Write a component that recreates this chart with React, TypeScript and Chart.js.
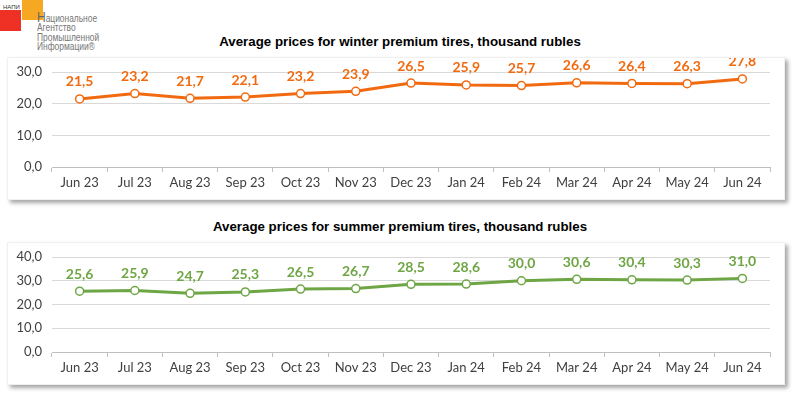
import React, { useEffect, useRef } from "react";
import { Chart, registerables } from "chart.js";

Chart.register(...registerables);

const months = ["Jun 23", "Jul 23", "Aug 23", "Sep 23", "Oct 23", "Nov 23", "Dec 23", "Jan 24", "Feb 24", "Mar 24", "Apr 24", "May 24", "Jun 24"];
const winterPrices = [21.5, 23.2, 21.7, 22.1, 23.2, 23.9, 26.5, 25.9, 25.7, 26.6, 26.4, 26.3, 27.8];
const summerPrices = [25.6, 25.9, 24.7, 25.3, 26.5, 26.7, 28.5, 28.6, 30.0, 30.6, 30.4, 30.3, 31.0];
const winterTitle = "Average prices for winter premium tires, thousand rubles";
const summerTitle = "Average prices for summer premium tires, thousand rubles";
const winterMax = 30;
const summerMax = 40;
const tickStep = 10;

const ORANGE = "#F26A10";
const GREEN = "#6FA645";
const LABEL_FONT = "Lato, 'Open Sans', sans-serif";

const fmt = (v: number) => v.toFixed(1).replace(".", ",");

const dataLabelPlugin = {
  id: "dataLabels",
  afterDatasetsDraw(chart: any) {
    const ctx = chart.ctx;
    chart.data.datasets.forEach((ds: any, i: number) => {
      const meta = chart.getDatasetMeta(i);
      ctx.save();
      ctx.fillStyle = ds.borderColor;
      ctx.font = `bold 14px ${LABEL_FONT}`;
      ctx.textAlign = "center";
      ctx.textBaseline = "middle";
      meta.data.forEach((pt: any, j: number) => {
        ctx.fillText(fmt(ds.data[j]), pt.x, pt.y - 17);
      });
      ctx.restore();
    });
  },
};

function LineBox({ values, color, max, title, top }: { values: number[]; color: string; max: number; title: string; top: number }) {
  const ref = useRef<HTMLCanvasElement>(null);
  useEffect(() => {
    if (!ref.current) return;
    const chart = new Chart(ref.current, {
      type: "line",
      data: {
        labels: months,
        datasets: [
          {
            data: values,
            borderColor: color,
            backgroundColor: "#ffffff",
            borderWidth: 3,
            pointRadius: 4,
            pointBorderWidth: 1.5,
            pointBackgroundColor: "#ffffff",
            pointBorderColor: color,
            tension: 0,
          },
        ],
      },
      options: {
        animation: false,
        responsive: false,
        maintainAspectRatio: false,
        events: [],
        layout: { padding: { top: 14, right: 14, left: 0, bottom: 0 } },
        plugins: { legend: { display: false }, tooltip: { enabled: false }, title: { display: false } },
        scales: {
          x: {
            offset: true,
            grid: { offset: true, drawOnChartArea: false, drawTicks: true, tickLength: 5, color: "#bfbfbf" },
            border: { display: true, color: "#bfbfbf", width: 1 },
            ticks: { color: "#404040", font: { family: LABEL_FONT, size: 13 }, padding: 3, maxRotation: 0 },
            afterFit: (s: any) => { s.height = 32; },
          },
          y: {
            min: 0,
            max: max,
            ticks: { stepSize: tickStep, color: "#404040", font: { family: LABEL_FONT, size: 13 }, padding: 2, callback: (v: any) => fmt(Number(v)) },
            grid: { color: "#d9d9d9", drawTicks: true, tickLength: 8, tickColor: "rgba(0,0,0,0)" },
            border: { display: false },
            afterFit: (s: any) => { s.width = 44; },
          },
        },
      },
      plugins: [dataLabelPlugin],
    });
    return () => chart.destroy();
  }, []);
  return (
    <>
      <div style={{ position: "absolute", left: 0, width: 800, top: top - 23, textAlign: "center", font: "bold 13.3px 'Liberation Sans', Arial, sans-serif", color: "#000" }}>{title}</div>
      <div style={{ position: "absolute", left: 7, top, width: 778, height: 143, background: "#fff", boxShadow: "3px 3px 4px rgba(0,0,0,0.35)", border: "1px solid #f0f0f0", boxSizing: "border-box" }}>
        <canvas ref={ref} width={776} height={141} style={{ display: "block" }} />
      </div>
    </>
  );
}

export default function App() {
  return (
    <div style={{ position: "fixed", left: 0, top: 0, width: 800, height: 398, background: "#fff", overflow: "hidden" }}>
      <div style={{ position: "absolute", left: 0, top: 10, width: 21, height: 21, background: "#EE3124" }} />
      <div style={{ position: "absolute", left: 22, top: 0, width: 21, height: 20, background: "#F7A823" }} />
      <div style={{ position: "absolute", left: 3, top: 4, font: "6px 'Liberation Sans', sans-serif", color: "#333" }}>НАПИ</div>
      <div style={{ position: "absolute", left: 37, top: 12, font: "10.5px 'Liberation Sans', sans-serif", color: "#777", lineHeight: "9.4px", transform: "scaleX(0.8)", transformOrigin: "0 0", whiteSpace: "nowrap" }}>
        <div><span style={{ fontSize: 15, color: "#666" }}>Н</span>ациональное</div>
        <div>Агентство</div>
        <div>Промышленной</div>
        <div>Информации®</div>
      </div>
      <LineBox values={winterPrices} color={ORANGE} max={winterMax} title={winterTitle} top={57} />
      <LineBox values={summerPrices} color={GREEN} max={summerMax} title={summerTitle} top={242} />
    </div>
  );
}
